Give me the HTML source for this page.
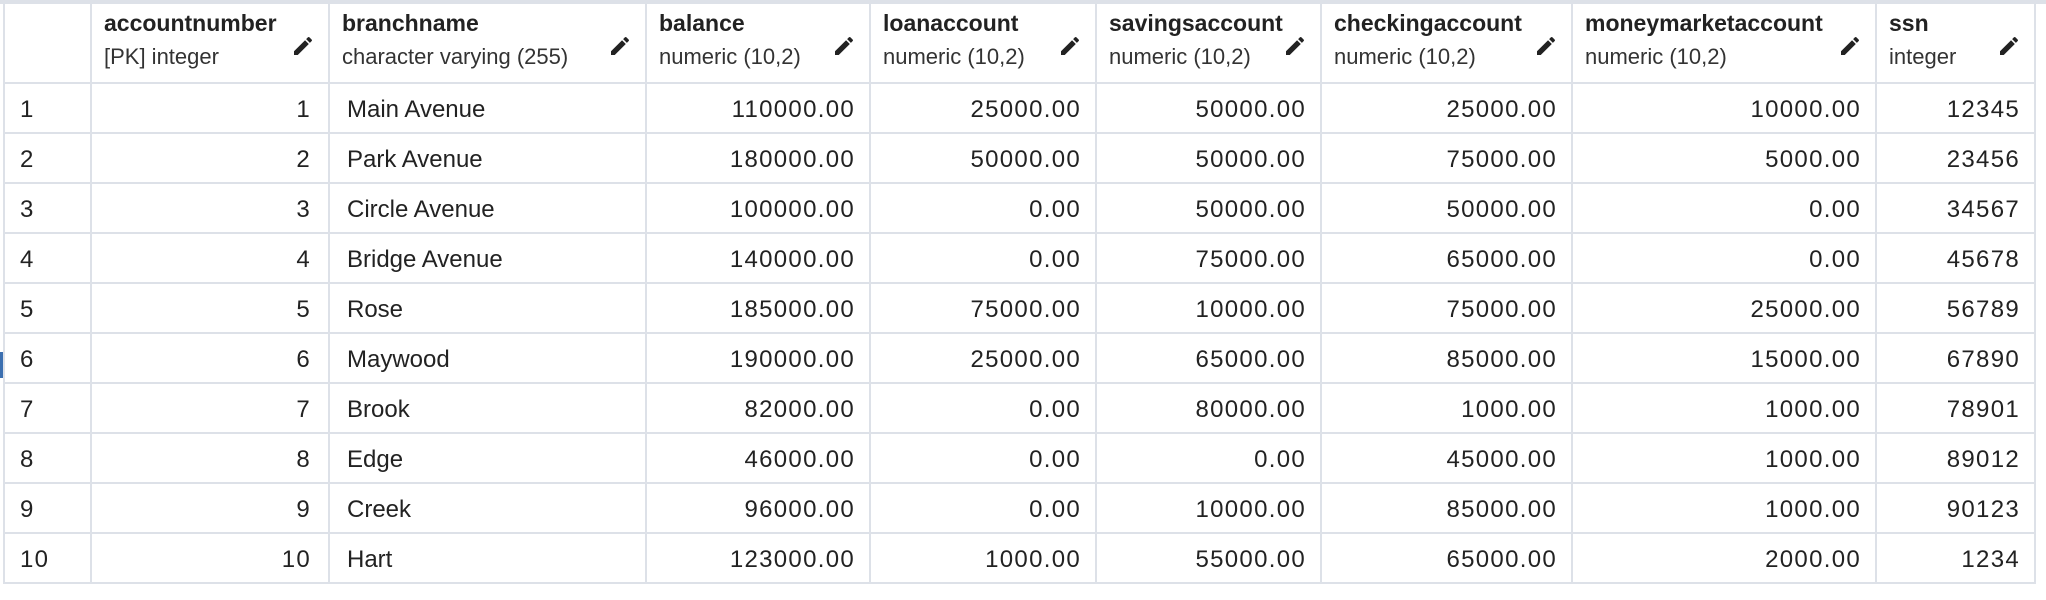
<!DOCTYPE html>
<html><head><meta charset="utf-8">
<style>
html,body{margin:0;padding:0;width:2046px;height:600px;background:#fff;overflow:hidden;font-family:"Liberation Sans",sans-serif;color:#222;}
#grid{position:absolute;left:0;top:0;width:2046px;height:600px;}
.topbar{position:absolute;left:0;top:0;width:2046px;height:4px;background:#dde1e8;}
.vl{position:absolute;top:4px;width:2px;background:#dde1e8;}
.hl{position:absolute;left:4px;height:2px;background:#dde1e8;}
.cell{position:absolute;font-size:24px;white-space:nowrap;line-height:50px;height:50px;}
.num{letter-spacing:1.3px;}
.hname{position:absolute;font-size:23px;font-weight:bold;color:#222;white-space:nowrap;}
.htype{position:absolute;font-size:22px;color:#333;white-space:nowrap;}
.pen{position:absolute;width:24px;height:24px;}
</style></head>
<body>
<div id="grid">
<div class="topbar"></div>
<div style="position:absolute;left:0;top:352px;width:3px;height:26px;background:#3b6fb0"></div>
</div>
<script>
const colEdges=[4,91,329,646,870,1096,1321,1572,1876,2035];
const headers=[["",""],["accountnumber","[PK] integer"],["branchname","character varying (255)"],["balance","numeric (10,2)"],["loanaccount","numeric (10,2)"],["savingsaccount","numeric (10,2)"],["checkingaccount","numeric (10,2)"],["moneymarketaccount","numeric (10,2)"],["ssn","integer"]];
const branches=["Main Avenue","Park Avenue","Circle Avenue","Bridge Avenue","Rose","Maywood","Brook","Edge","Creek","Hart"];
const balance=[110000,180000,100000,140000,185000,190000,82000,46000,96000,123000];
const loan=[25000,50000,0,0,75000,25000,0,0,0,1000];
const savings=[50000,50000,50000,75000,10000,65000,80000,0,10000,55000];
const checking=[25000,75000,50000,65000,75000,85000,1000,45000,85000,65000];
const money=[10000,5000,0,0,25000,15000,1000,1000,1000,2000];
const ssn=[12345,23456,34567,45678,56789,67890,78901,89012,90123,1234];
const g=document.getElementById('grid');
const headerBottom=83,rowH=50;
function add(cls,style,name,inter,text){const d=document.createElement('div');d.className=cls;d.style.cssText=style;


if(text!==undefined)d.textContent=text;g.appendChild(d);return d;}
colEdges.forEach((x,i)=>{add('vl','left:'+(x-1)+'px;height:'+(583-4+1)+'px;','column-divider','false');});
for(let r=0;r<=10;r++){add('hl','top:'+(headerBottom+r*rowH-1)+'px;width:'+(2035-4)+'px;','row-divider','false');}
headers.forEach((h,i)=>{if(i===0)return;const x=colEdges[i];
add('hname','left:'+(x+13)+'px;top:10px;','header-'+h[0],'true',h[0]);
add('htype','left:'+(x+13)+'px;top:44px;','header-type-'+h[0],'false',h[1]);
const p=document.createElementNS('http://www.w3.org/2000/svg','svg');
p.setAttribute('class','pen');p.setAttribute('viewBox','0 0 24 24');
p.style.left=(colEdges[i+1]-38)+'px';p.style.top='34px';
p.innerHTML='<path d="M3 17.25V21h3.75L17.81 9.94l-3.75-3.75L3 17.25zM20.71 7.04a1 1 0 000-1.41l-2.34-2.34a1 1 0 00-1.41 0l-1.83 1.83 3.75 3.75 1.83-1.83z" fill="#222"/>';


g.appendChild(p);});
const cols=[null,null,null,balance,loan,savings,checking,money];
for(let r=0;r<10;r++){const y=headerBottom+r*rowH+2;
add('cell num','left:20px;top:'+y+'px;','row-number','false',String(r+1));
add('cell num','right:'+(2046-colEdges[2]+18)+'px;top:'+y+'px;','accountnumber-cell','true',String(r+1));
add('cell','left:'+(colEdges[2]+18)+'px;top:'+y+'px;','branchname-cell','true',branches[r]);
for(let c=3;c<=7;c++){add('cell num','right:'+(2046-colEdges[c+1]+15)+'px;top:'+y+'px;','numeric-cell','true',cols[c][r].toFixed(2));}
add('cell num','right:'+(2046-colEdges[9]+15)+'px;top:'+y+'px;','ssn-cell','true',String(ssn[r]));
}
</script>
</body></html>
